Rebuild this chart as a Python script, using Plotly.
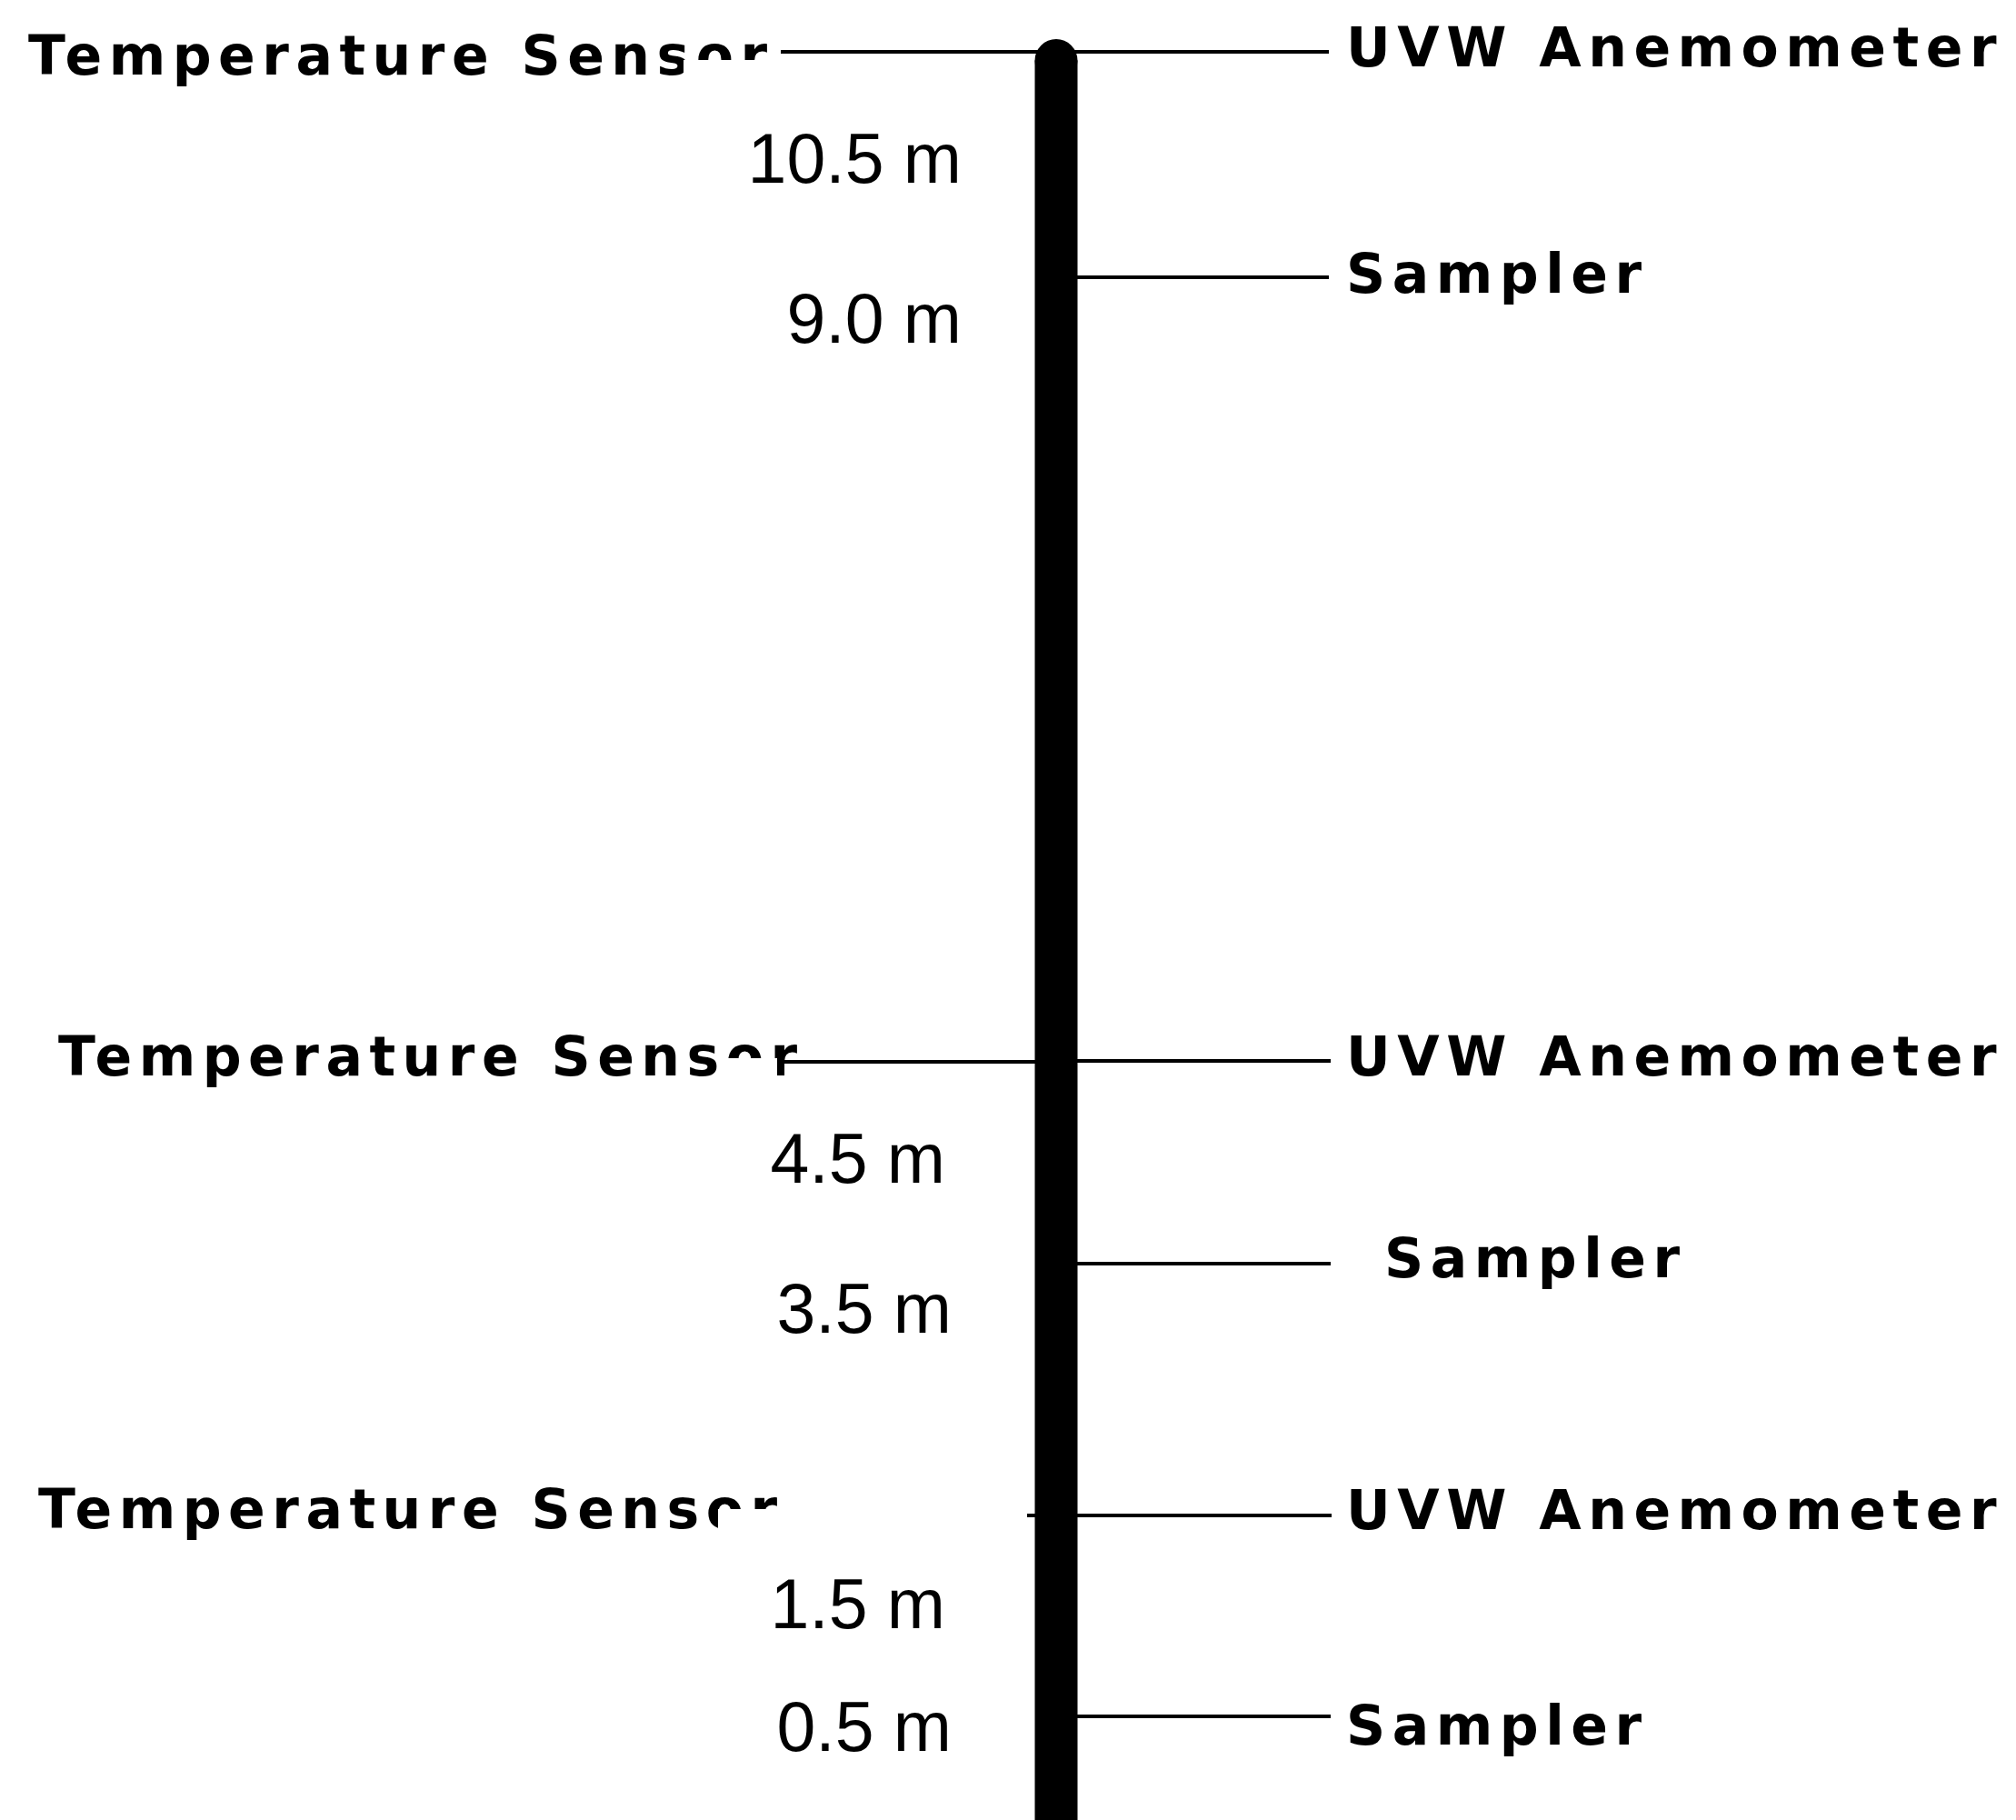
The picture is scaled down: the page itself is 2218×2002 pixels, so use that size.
import plotly.graph_objects as go

W, H = 2218, 2002

# height marks written left of the mast
heights = ["10.5 m", "9.0 m", "4.5 m", "3.5 m", "1.5 m", "0.5 m"]
height_y = [182, 358, 1282, 1447, 1772, 1907]
height_x = [1058, 1058, 1040, 1047, 1040, 1047]

# instruments on the right-hand arms
right_names = ["UVW Anemometer", "Sampler", "UVW Anemometer", "Sampler", "UVW Anemometer", "Sampler"]
right_arm_y = [57, 305, 1167, 1390, 1667, 1888]
right_arm_end = [1462, 1462, 1464, 1464, 1465, 1464]
right_text_x = [1481, 1481, 1481, 1523, 1481, 1481]
right_text_y = [58, 307, 1168, 1390, 1667, 1904]

# temperature sensors on the left-hand arms
left_names = ["Temperature Sensor", "Temperature Sensor", "Temperature Sensor"]
left_arm_y = [57, 1168, 1667]
left_arm_start = [859, 857, 1130]
left_text_x = [31, 64, 42]
left_text_y = [67, 1168, 1666]

mast_x = 1162
mast_top = 43
mast_bottom = 2002
mast_w = 47

label_font = dict(family="DejaVu Sans", size=60, color="black", weight="bold")
height_font = dict(family="Liberation Sans, Arial", size=77, color="black")


def spaced(s):
    return '<span style="letter-spacing:7.5px">' + s + '</span>'


fig = go.Figure()

# arms
ax, ay = [], []
for y, x1 in zip(right_arm_y, right_arm_end):
    ax += [mast_x, x1, None]
    ay += [y, y, None]
for y, x0 in zip(left_arm_y, left_arm_start):
    ax += [x0, mast_x, None]
    ay += [y, y, None]
fig.add_trace(go.Scatter(x=ax, y=ay, mode="lines",
                         line=dict(color="black", width=4), hoverinfo="skip"))

# mast with rounded top
fig.add_trace(go.Scatter(x=[mast_x, mast_x], y=[mast_top + mast_w / 2, mast_bottom + 20],
                         mode="lines", line=dict(color="black", width=mast_w), hoverinfo="skip"))
fig.add_trace(go.Scatter(x=[mast_x], y=[mast_top + mast_w / 2], mode="markers",
                         marker=dict(color="black", size=mast_w, line=dict(width=0)), hoverinfo="skip"))

# labels
fig.add_trace(go.Scatter(x=right_text_x, y=right_text_y, mode="text",
                         text=[spaced(s) for s in right_names], textposition="middle right",
                         textfont=label_font, hoverinfo="skip"))
fig.add_trace(go.Scatter(x=left_text_x, y=left_text_y, mode="text",
                         text=[spaced(s) for s in left_names], textposition="middle right",
                         textfont=label_font, hoverinfo="skip"))
fig.add_trace(go.Scatter(x=height_x, y=height_y, mode="text",
                         text=heights, textposition="middle left",
                         textfont=height_font, hoverinfo="skip"))

# the end of each "Sensor" is partly blanked out in the source figure
covers = [(752, 66, 856, 105), (795, 1164, 855, 1205), (790, 1660, 870, 1705)]
for x0, y0, x1, y1 in covers:
    fig.add_shape(type="rect", x0=x0, y0=y0, x1=x1, y1=y1, layer="above",
                  fillcolor="white", line=dict(width=0))

fig.update_layout(
    width=W, height=H,
    margin=dict(l=0, r=0, t=0, b=0),
    paper_bgcolor="white", plot_bgcolor="white",
    showlegend=False,
    xaxis=dict(range=[0, W], visible=False, fixedrange=True),
    yaxis=dict(range=[H, 0], visible=False, fixedrange=True),
)

fig.write_html("out.html", config={"displayModeBar": False},
               post_script="document.body.style.margin='0';")
